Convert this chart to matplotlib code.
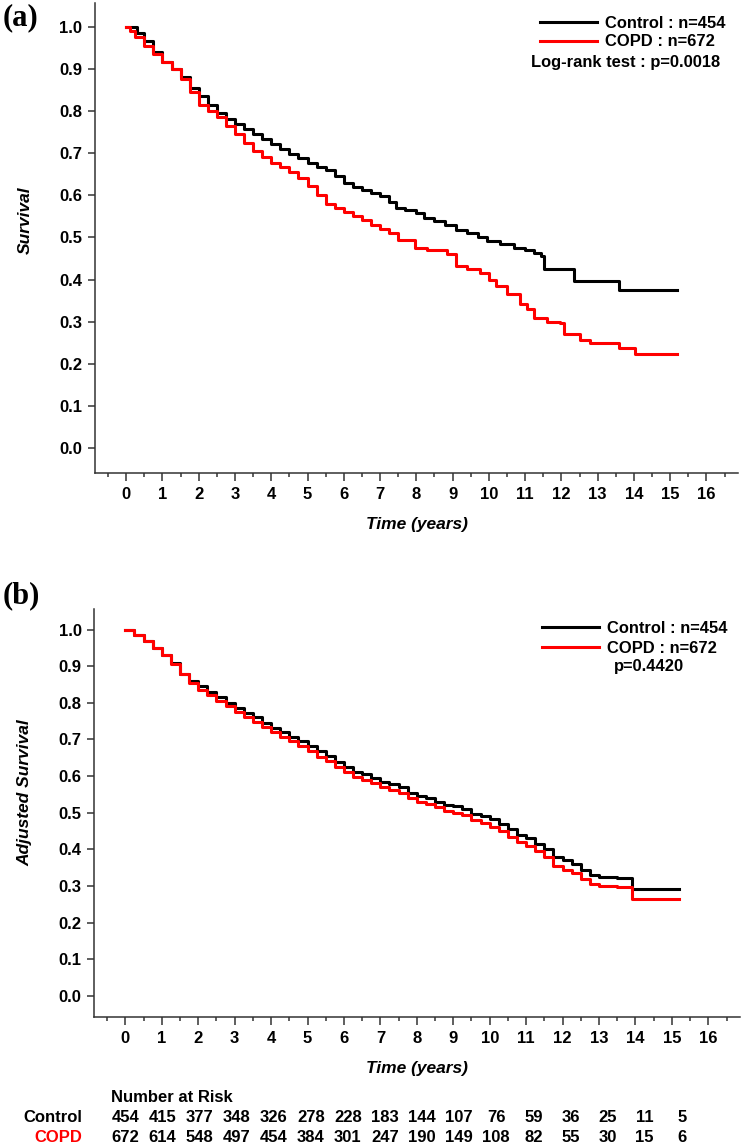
import numpy as np
import matplotlib
matplotlib.use('Agg')
import matplotlib.pyplot as plt
from matplotlib.ticker import MultipleLocator
from matplotlib.lines import Line2D
from matplotlib.transforms import blended_transform_factory

plt.rcParams['font.family'] = ['Liberation Sans', 'DejaVu Sans']

# ---- panel (a): Kaplan-Meier ----
ta_ctrl = [0, 0.3, 0.5, 0.75, 1.0, 1.25, 1.5, 1.75, 2.0, 2.25, 2.5, 2.75,
           3.0, 3.25, 3.5, 3.75, 4.0, 4.25, 4.5, 4.75, 5.0, 5.25, 5.5, 5.75,
           6.0, 6.25, 6.5, 6.75, 7.0, 7.25, 7.45, 7.7, 8.0, 8.2, 8.5, 8.8,
           9.1, 9.4, 9.7, 9.95, 10.3, 10.7, 11.0, 11.25, 11.45, 11.52, 12.35,
           13.6, 15.2]
sa_ctrl = [1.0, 0.985, 0.965, 0.94, 0.915, 0.9, 0.88, 0.855, 0.835, 0.815,
           0.795, 0.78, 0.768, 0.757, 0.745, 0.733, 0.722, 0.71, 0.698, 0.688,
           0.676, 0.666, 0.66, 0.645, 0.63, 0.62, 0.612, 0.605, 0.598, 0.585,
           0.569, 0.565, 0.558, 0.547, 0.54, 0.53, 0.517, 0.51, 0.5, 0.491,
           0.485, 0.476, 0.47, 0.464, 0.456, 0.424, 0.396, 0.375, 0.375]

ta_copd = [0, 0.1, 0.25, 0.5, 0.75, 1.0, 1.25, 1.5, 1.75, 2.0, 2.25, 2.5,
           2.75, 3.0, 3.25, 3.5, 3.75, 4.0, 4.25, 4.5, 4.75, 5.0, 5.25, 5.5,
           5.75, 6.0, 6.25, 6.5, 6.75, 7.0, 7.25, 7.5, 7.95, 8.3, 8.85, 9.1,
           9.4, 9.75, 10.0, 10.2, 10.5, 10.85, 11.05, 11.25, 11.6, 11.97,
           12.06, 12.5, 12.8, 13.58, 14.04, 15.2]
sa_copd = [1.0, 0.99, 0.975, 0.955, 0.935, 0.915, 0.9, 0.875, 0.845, 0.815,
           0.8, 0.785, 0.765, 0.745, 0.725, 0.705, 0.69, 0.677, 0.668, 0.655,
           0.64, 0.622, 0.6, 0.58, 0.57, 0.56, 0.55, 0.541, 0.53, 0.521, 0.51,
           0.495, 0.476, 0.47, 0.46, 0.432, 0.425, 0.416, 0.4, 0.385, 0.365,
           0.341, 0.33, 0.31, 0.3, 0.296, 0.27, 0.257, 0.25, 0.237, 0.223,
           0.223]

# ---- panel (b): adjusted survival ----
tb = [0, 0.25, 0.5, 0.75, 1, 1.25, 1.5, 1.75, 2, 2.25, 2.5, 2.75, 3, 3.25,
      3.5, 3.75, 4, 4.25, 4.5, 4.75, 5, 5.25, 5.5, 5.75, 6, 6.25, 6.5, 6.75,
      7, 7.25, 7.5, 7.75, 8, 8.25, 8.5, 8.75, 9, 9.25, 9.5, 9.75, 10, 10.25,
      10.5, 10.75, 11, 11.25, 11.5, 11.75, 12, 12.25, 12.5, 12.75, 13, 13.5,
      13.9, 15.2]
sb_ctrl = [1.0, 0.985, 0.97, 0.95, 0.93, 0.91, 0.88, 0.86,
           0.845, 0.83, 0.815, 0.80, 0.787, 0.772, 0.76, 0.745,
           0.732, 0.72, 0.708, 0.695, 0.682, 0.668, 0.655, 0.638,
           0.625, 0.612, 0.605, 0.595, 0.585, 0.578, 0.57, 0.555,
           0.545, 0.54, 0.53, 0.522, 0.518, 0.51, 0.498, 0.49,
           0.482, 0.47, 0.455, 0.44, 0.43, 0.415, 0.40, 0.38,
           0.372, 0.36, 0.345, 0.33, 0.325, 0.322, 0.292, 0.292]
sb_copd = [1.0, 0.985, 0.97, 0.95, 0.93, 0.905, 0.88, 0.855,
           0.835, 0.82, 0.805, 0.79, 0.775, 0.76, 0.748, 0.735,
           0.72, 0.708, 0.695, 0.682, 0.668, 0.652, 0.64, 0.625,
           0.61, 0.598, 0.59, 0.58, 0.57, 0.562, 0.555, 0.54,
           0.53, 0.523, 0.515, 0.505, 0.50, 0.495, 0.48, 0.472,
           0.462, 0.45, 0.435, 0.42, 0.41, 0.395, 0.38, 0.355,
           0.345, 0.335, 0.32, 0.305, 0.30, 0.298, 0.266, 0.266]

years = list(range(16))
risk_ctrl = [454, 415, 377, 348, 326, 278, 228, 183, 144, 107, 76, 59, 36, 25, 11, 5]
risk_copd = [672, 614, 548, 497, 454, 384, 301, 247, 190, 149, 108, 82, 55, 30, 15, 6]

W, H = 744, 1146
fig = plt.figure(figsize=(W/100, H/100), dpi=100)

def px(x0, y0, x1, y1):
    # pixel box (top-left origin) -> figure fraction rect
    return (x0/W, 1-y1/H, (x1-x0)/W, (y1-y0)/H)

ax1 = fig.add_axes(px(95, 3, 738, 472.7))
ax2 = fig.add_axes(px(94, 609, 740, 1017.3))

yt = [0.0, 0.1, 0.2, 0.3, 0.4, 0.5, 0.6, 0.7, 0.8, 0.9, 1.0]

def style(ax):
    for s in ['top', 'right']:
        ax.spines[s].set_visible(False)
    for s in ['left', 'bottom']:
        ax.spines[s].set_linewidth(1.1)
        ax.spines[s].set_color('#333333')
    ax.set_xlim(-0.86, 16.87)
    ax.set_ylim(-0.058, 1.056)
    ax.set_xticks(range(17))
    ax.xaxis.set_minor_locator(MultipleLocator(0.5))
    ax.set_yticks(yt)
    ax.set_yticklabels([f'{v:.1f}' for v in yt])
    ax.tick_params(axis='x', which='major', length=6, width=1.1, pad=4,
                   labelsize=12, color='#333333')
    ax.tick_params(axis='x', which='minor', length=3, width=1.1, color='#333333')
    ax.tick_params(axis='y', which='major', length=5, width=1.1, pad=4,
                   labelsize=12, color='#333333')
    for lab in ax.get_xticklabels() + ax.get_yticklabels():
        lab.set_fontweight('bold')
    ax.set_xlabel('Time (years)', fontsize=12.5, fontweight='bold',
                  fontstyle='italic', labelpad=11)

style(ax1)
style(ax2)

ax1.plot(ta_ctrl, sa_ctrl, drawstyle='steps-post', color='black', lw=2.2)
ax1.plot(ta_copd, sa_copd, drawstyle='steps-post', color='red', lw=2.2)
ax2.plot(tb, sb_ctrl, drawstyle='steps-post', color='black', lw=2.2)
ax2.plot(tb, sb_copd, drawstyle='steps-post', color='red', lw=2.2)

fig.text(25/W, 1-220/H, 'Survival', rotation=90, ha='center', va='center',
         fontsize=12.5, fontweight='bold', fontstyle='italic')
fig.text(25/W, 1-793/H, 'Adjusted Survival', rotation=90, ha='center',
         va='center', fontsize=12.5, fontweight='bold', fontstyle='italic')

fig.text(3/W, 1-18/H, '(a)', ha='left', va='center', fontsize=22,
         fontweight='bold', family='Liberation Serif')
fig.text(3/W, 1-596/H, '(b)', ha='left', va='center', fontsize=22,
         fontweight='bold', family='Liberation Serif')

handles = [Line2D([], [], color='black', lw=2.2),
           Line2D([], [], color='red', lw=2.2)]
for ax, x0, y0, sp in [(ax1, 540, 16, 0.2), (ax2, 542, 621, 0.3)]:
    ax.legend(handles, ['Control : n=454', 'COPD : n=672'], loc='upper left',
              bbox_to_anchor=(x0/W, 1-y0/H), bbox_transform=fig.transFigure,
              frameon=False, borderpad=0, borderaxespad=0, handlelength=3.45,
              handletextpad=0.5, labelspacing=sp,
              prop={'weight': 'bold', 'size': 11.9})

fig.text(531/W, 1-62/H, 'Log-rank test : p=0.0018', ha='left', va='center',
         fontsize=11.9, fontweight='bold')
fig.text(614/W, 1-667/H, 'p=0.4420', ha='left', va='center',
         fontsize=11.9, fontweight='bold')

# number at risk table
fig.text(111/W, 1-1097/H, 'Number at Risk', ha='left', va='center',
         fontsize=12, fontweight='bold')
fig.text(82/W, 1-1118/H, 'Control', ha='right', va='center',
         fontsize=12, fontweight='bold')
fig.text(82/W, 1-1138/H, 'COPD', ha='right', va='center', color='red',
         fontsize=12, fontweight='bold')
tr = blended_transform_factory(ax2.transData, fig.transFigure)
for yr, nc, nd in zip(years, risk_ctrl, risk_copd):
    xpos = yr * 1.018
    ax2.text(xpos, 1-1118/H, str(nc), ha='center', va='center', fontsize=12,
             fontweight='bold', transform=tr)
    ax2.text(xpos, 1-1138/H, str(nd), ha='center', va='center', fontsize=12,
             fontweight='bold', transform=tr)

fig.savefig('out.png', dpi=100)
